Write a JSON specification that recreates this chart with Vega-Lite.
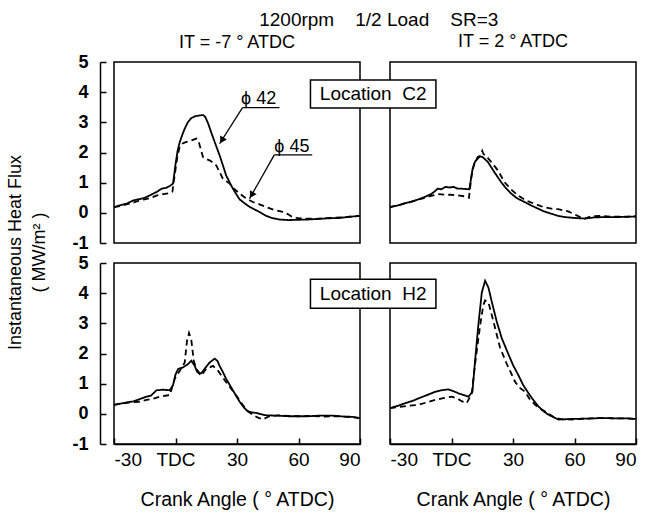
{
  "$schema": "https://vega.github.io/schema/vega-lite/v6.json",
  "padding": {"left": 5, "top": 11, "right": 5, "bottom": 2},
  "title": {"text": "1200rpm\u00a0\u00a0\u00a0\u00a01/2 Load\u00a0\u00a0\u00a0\u00a0SR=3", "anchor": "middle", "fontSize": 19, "fontWeight": "normal", "offset": 2, "dx": 56},
  "columns": 2,
  "bounds": "flush",
  "spacing": {"row": 20, "column": 30},
  "datasets": {
    "curves": [
      {"p":"TL","s":"ϕ42","x":-30,"y":0.19},{"p":"TL","s":"ϕ42","x":-27,"y":0.25},{"p":"TL","s":"ϕ42","x":-24,"y":0.3},{"p":"TL","s":"ϕ42","x":-20.6,"y":0.41},{"p":"TL","s":"ϕ42","x":-18,"y":0.45},{"p":"TL","s":"ϕ42","x":-15,"y":0.5},{"p":"TL","s":"ϕ42","x":-12.5,"y":0.58},{"p":"TL","s":"ϕ42","x":-9,"y":0.7},{"p":"TL","s":"ϕ42","x":-6.8,"y":0.8},{"p":"TL","s":"ϕ42","x":-4.5,"y":0.83},{"p":"TL","s":"ϕ42","x":-2.8,"y":0.89},{"p":"TL","s":"ϕ42","x":-1.2,"y":0.97},{"p":"TL","s":"ϕ42","x":0,"y":1.6},{"p":"TL","s":"ϕ42","x":1,"y":2.05},{"p":"TL","s":"ϕ42","x":2.1,"y":2.35},{"p":"TL","s":"ϕ42","x":3.5,"y":2.62},{"p":"TL","s":"ϕ42","x":4.5,"y":2.79},{"p":"TL","s":"ϕ42","x":6,"y":3.0},{"p":"TL","s":"ϕ42","x":7.7,"y":3.14},{"p":"TL","s":"ϕ42","x":9.5,"y":3.2},{"p":"TL","s":"ϕ42","x":11.8,"y":3.23},{"p":"TL","s":"ϕ42","x":13.5,"y":3.24},{"p":"TL","s":"ϕ42","x":14.5,"y":3.18},{"p":"TL","s":"ϕ42","x":16,"y":2.95},{"p":"TL","s":"ϕ42","x":17.5,"y":2.65},{"p":"TL","s":"ϕ42","x":19.1,"y":2.35},{"p":"TL","s":"ϕ42","x":21.5,"y":1.91},{"p":"TL","s":"ϕ42","x":23,"y":1.6},{"p":"TL","s":"ϕ42","x":24.7,"y":1.24},{"p":"TL","s":"ϕ42","x":26.5,"y":1.0},{"p":"TL","s":"ϕ42","x":28,"y":0.8},{"p":"TL","s":"ϕ42","x":31.2,"y":0.45},{"p":"TL","s":"ϕ42","x":34,"y":0.3},{"p":"TL","s":"ϕ42","x":36.1,"y":0.2},{"p":"TL","s":"ϕ42","x":40.9,"y":0.03},{"p":"TL","s":"ϕ42","x":44.2,"y":-0.1},{"p":"TL","s":"ϕ42","x":47,"y":-0.17},{"p":"TL","s":"ϕ42","x":50.6,"y":-0.22},{"p":"TL","s":"ϕ42","x":55,"y":-0.24},{"p":"TL","s":"ϕ42","x":60.4,"y":-0.23},{"p":"TL","s":"ϕ42","x":65,"y":-0.22},{"p":"TL","s":"ϕ42","x":70,"y":-0.2},{"p":"TL","s":"ϕ42","x":75,"y":-0.18},{"p":"TL","s":"ϕ42","x":80,"y":-0.17},{"p":"TL","s":"ϕ42","x":85,"y":-0.13},{"p":"TL","s":"ϕ42","x":90,"y":-0.1},
      {"p":"TL","s":"ϕ45","x":-30,"y":0.19},{"p":"TL","s":"ϕ45","x":-27,"y":0.22},{"p":"TL","s":"ϕ45","x":-24,"y":0.28},{"p":"TL","s":"ϕ45","x":-21,"y":0.33},{"p":"TL","s":"ϕ45","x":-18,"y":0.4},{"p":"TL","s":"ϕ45","x":-15,"y":0.45},{"p":"TL","s":"ϕ45","x":-12,"y":0.5},{"p":"TL","s":"ϕ45","x":-9,"y":0.58},{"p":"TL","s":"ϕ45","x":-6,"y":0.62},{"p":"TL","s":"ϕ45","x":-3,"y":0.65},{"p":"TL","s":"ϕ45","x":-1.5,"y":0.7},{"p":"TL","s":"ϕ45","x":-0.5,"y":1.2},{"p":"TL","s":"ϕ45","x":1,"y":1.9},{"p":"TL","s":"ϕ45","x":2.1,"y":2.2},{"p":"TL","s":"ϕ45","x":3.5,"y":2.3},{"p":"TL","s":"ϕ45","x":5.3,"y":2.35},{"p":"TL","s":"ϕ45","x":7.7,"y":2.4},{"p":"TL","s":"ϕ45","x":10.2,"y":2.46},{"p":"TL","s":"ϕ45","x":11.2,"y":2.4},{"p":"TL","s":"ϕ45","x":11.8,"y":2.24},{"p":"TL","s":"ϕ45","x":13.4,"y":1.85},{"p":"TL","s":"ϕ45","x":15,"y":1.78},{"p":"TL","s":"ϕ45","x":16.6,"y":1.74},{"p":"TL","s":"ϕ45","x":18,"y":1.68},{"p":"TL","s":"ϕ45","x":19.9,"y":1.57},{"p":"TL","s":"ϕ45","x":21.5,"y":1.35},{"p":"TL","s":"ϕ45","x":23.1,"y":1.13},{"p":"TL","s":"ϕ45","x":26.4,"y":0.97},{"p":"TL","s":"ϕ45","x":28.5,"y":0.8},{"p":"TL","s":"ϕ45","x":31.2,"y":0.64},{"p":"TL","s":"ϕ45","x":34,"y":0.5},{"p":"TL","s":"ϕ45","x":37.7,"y":0.36},{"p":"TL","s":"ϕ45","x":41,"y":0.28},{"p":"TL","s":"ϕ45","x":44.2,"y":0.19},{"p":"TL","s":"ϕ45","x":48,"y":0.1},{"p":"TL","s":"ϕ45","x":52.3,"y":0.03},{"p":"TL","s":"ϕ45","x":55,"y":-0.05},{"p":"TL","s":"ϕ45","x":57.1,"y":-0.14},{"p":"TL","s":"ϕ45","x":60,"y":-0.18},{"p":"TL","s":"ϕ45","x":63.6,"y":-0.19},{"p":"TL","s":"ϕ45","x":68,"y":-0.2},{"p":"TL","s":"ϕ45","x":72,"y":-0.18},{"p":"TL","s":"ϕ45","x":76.6,"y":-0.17},{"p":"TL","s":"ϕ45","x":81,"y":-0.15},{"p":"TL","s":"ϕ45","x":85,"y":-0.13},{"p":"TL","s":"ϕ45","x":90,"y":-0.1},
      {"p":"TR","s":"ϕ42","x":-30,"y":0.19},{"p":"TR","s":"ϕ42","x":-26,"y":0.25},{"p":"TR","s":"ϕ42","x":-22,"y":0.33},{"p":"TR","s":"ϕ42","x":-19.9,"y":0.36},{"p":"TR","s":"ϕ42","x":-16,"y":0.45},{"p":"TR","s":"ϕ42","x":-13.3,"y":0.52},{"p":"TR","s":"ϕ42","x":-10,"y":0.62},{"p":"TR","s":"ϕ42","x":-8,"y":0.72},{"p":"TR","s":"ϕ42","x":-6.8,"y":0.8},{"p":"TR","s":"ϕ42","x":-5,"y":0.78},{"p":"TR","s":"ϕ42","x":-3,"y":0.86},{"p":"TR","s":"ϕ42","x":-1,"y":0.84},{"p":"TR","s":"ϕ42","x":1,"y":0.86},{"p":"TR","s":"ϕ42","x":3,"y":0.8},{"p":"TR","s":"ϕ42","x":5,"y":0.8},{"p":"TR","s":"ϕ42","x":8.7,"y":0.78},{"p":"TR","s":"ϕ42","x":10.3,"y":1.46},{"p":"TR","s":"ϕ42","x":11.5,"y":1.7},{"p":"TR","s":"ϕ42","x":12.8,"y":1.8},{"p":"TR","s":"ϕ42","x":14,"y":1.87},{"p":"TR","s":"ϕ42","x":15.2,"y":1.85},{"p":"TR","s":"ϕ42","x":17.7,"y":1.69},{"p":"TR","s":"ϕ42","x":20.9,"y":1.35},{"p":"TR","s":"ϕ42","x":24.2,"y":1.02},{"p":"TR","s":"ϕ42","x":26.5,"y":0.82},{"p":"TR","s":"ϕ42","x":29.1,"y":0.64},{"p":"TR","s":"ϕ42","x":32,"y":0.48},{"p":"TR","s":"ϕ42","x":35.6,"y":0.36},{"p":"TR","s":"ϕ42","x":39,"y":0.24},{"p":"TR","s":"ϕ42","x":42.2,"y":0.14},{"p":"TR","s":"ϕ42","x":45,"y":0.05},{"p":"TR","s":"ϕ42","x":48.7,"y":-0.03},{"p":"TR","s":"ϕ42","x":52,"y":-0.1},{"p":"TR","s":"ϕ42","x":55.2,"y":-0.14},{"p":"TR","s":"ϕ42","x":60,"y":-0.17},{"p":"TR","s":"ϕ42","x":65,"y":-0.19},{"p":"TR","s":"ϕ42","x":70,"y":-0.15},{"p":"TR","s":"ϕ42","x":75,"y":-0.14},{"p":"TR","s":"ϕ42","x":81.3,"y":-0.14},{"p":"TR","s":"ϕ42","x":86,"y":-0.13},{"p":"TR","s":"ϕ42","x":90,"y":-0.12},
      {"p":"TR","s":"ϕ45","x":-30,"y":0.19},{"p":"TR","s":"ϕ45","x":-26,"y":0.25},{"p":"TR","s":"ϕ45","x":-22,"y":0.33},{"p":"TR","s":"ϕ45","x":-18,"y":0.4},{"p":"TR","s":"ϕ45","x":-14,"y":0.48},{"p":"TR","s":"ϕ45","x":-10,"y":0.56},{"p":"TR","s":"ϕ45","x":-6.8,"y":0.62},{"p":"TR","s":"ϕ45","x":-3,"y":0.6},{"p":"TR","s":"ϕ45","x":-0.3,"y":0.6},{"p":"TR","s":"ϕ45","x":3,"y":0.58},{"p":"TR","s":"ϕ45","x":6,"y":0.55},{"p":"TR","s":"ϕ45","x":8.5,"y":0.5},{"p":"TR","s":"ϕ45","x":9.8,"y":1.24},{"p":"TR","s":"ϕ45","x":11,"y":1.6},{"p":"TR","s":"ϕ45","x":12.8,"y":1.85},{"p":"TR","s":"ϕ45","x":14.3,"y":1.9},{"p":"TR","s":"ϕ45","x":15,"y":2.05},{"p":"TR","s":"ϕ45","x":15.6,"y":1.95},{"p":"TR","s":"ϕ45","x":17,"y":1.88},{"p":"TR","s":"ϕ45","x":19.3,"y":1.69},{"p":"TR","s":"ϕ45","x":21,"y":1.55},{"p":"TR","s":"ϕ45","x":22.6,"y":1.41},{"p":"TR","s":"ϕ45","x":25.8,"y":1.02},{"p":"TR","s":"ϕ45","x":29,"y":0.78},{"p":"TR","s":"ϕ45","x":32.4,"y":0.58},{"p":"TR","s":"ϕ45","x":36,"y":0.42},{"p":"TR","s":"ϕ45","x":40.5,"y":0.3},{"p":"TR","s":"ϕ45","x":44.5,"y":0.2},{"p":"TR","s":"ϕ45","x":48.7,"y":0.14},{"p":"TR","s":"ϕ45","x":52,"y":0.12},{"p":"TR","s":"ϕ45","x":56.9,"y":0.05},{"p":"TR","s":"ϕ45","x":60,"y":-0.05},{"p":"TR","s":"ϕ45","x":63,"y":-0.15},{"p":"TR","s":"ϕ45","x":65,"y":-0.19},{"p":"TR","s":"ϕ45","x":68,"y":-0.12},{"p":"TR","s":"ϕ45","x":73.2,"y":-0.1},{"p":"TR","s":"ϕ45","x":78,"y":-0.13},{"p":"TR","s":"ϕ45","x":84,"y":-0.13},{"p":"TR","s":"ϕ45","x":90,"y":-0.12},
      {"p":"BL","s":"ϕ42","x":-30,"y":0.3},{"p":"BL","s":"ϕ42","x":-26,"y":0.35},{"p":"BL","s":"ϕ42","x":-22,"y":0.4},{"p":"BL","s":"ϕ42","x":-20.6,"y":0.41},{"p":"BL","s":"ϕ42","x":-17,"y":0.5},{"p":"BL","s":"ϕ42","x":-14.1,"y":0.57},{"p":"BL","s":"ϕ42","x":-12,"y":0.6},{"p":"BL","s":"ϕ42","x":-9.3,"y":0.78},{"p":"BL","s":"ϕ42","x":-6,"y":0.8},{"p":"BL","s":"ϕ42","x":-2.8,"y":0.78},{"p":"BL","s":"ϕ42","x":-1.2,"y":0.95},{"p":"BL","s":"ϕ42","x":0,"y":1.3},{"p":"BL","s":"ϕ42","x":1.3,"y":1.49},{"p":"BL","s":"ϕ42","x":3.7,"y":1.54},{"p":"BL","s":"ϕ42","x":6.1,"y":1.65},{"p":"BL","s":"ϕ42","x":7.7,"y":1.76},{"p":"BL","s":"ϕ42","x":9.4,"y":1.59},{"p":"BL","s":"ϕ42","x":10.5,"y":1.4},{"p":"BL","s":"ϕ42","x":11.8,"y":1.32},{"p":"BL","s":"ϕ42","x":13,"y":1.38},{"p":"BL","s":"ϕ42","x":14.2,"y":1.49},{"p":"BL","s":"ϕ42","x":16.6,"y":1.7},{"p":"BL","s":"ϕ42","x":19.1,"y":1.83},{"p":"BL","s":"ϕ42","x":20.5,"y":1.75},{"p":"BL","s":"ϕ42","x":21.5,"y":1.59},{"p":"BL","s":"ϕ42","x":23,"y":1.4},{"p":"BL","s":"ϕ42","x":24.7,"y":1.16},{"p":"BL","s":"ϕ42","x":28,"y":0.78},{"p":"BL","s":"ϕ42","x":31.2,"y":0.41},{"p":"BL","s":"ϕ42","x":33.5,"y":0.2},{"p":"BL","s":"ϕ42","x":35.3,"y":0.08},{"p":"BL","s":"ϕ42","x":37,"y":0.05},{"p":"BL","s":"ϕ42","x":39.3,"y":0.03},{"p":"BL","s":"ϕ42","x":44.2,"y":-0.05},{"p":"BL","s":"ϕ42","x":50,"y":-0.06},{"p":"BL","s":"ϕ42","x":55,"y":-0.08},{"p":"BL","s":"ϕ42","x":60.4,"y":-0.08},{"p":"BL","s":"ϕ42","x":65,"y":-0.08},{"p":"BL","s":"ϕ42","x":70,"y":-0.06},{"p":"BL","s":"ϕ42","x":76.6,"y":-0.06},{"p":"BL","s":"ϕ42","x":82,"y":-0.09},{"p":"BL","s":"ϕ42","x":86,"y":-0.1},{"p":"BL","s":"ϕ42","x":90,"y":-0.14},
      {"p":"BL","s":"ϕ45","x":-30,"y":0.3},{"p":"BL","s":"ϕ45","x":-26,"y":0.34},{"p":"BL","s":"ϕ45","x":-22,"y":0.38},{"p":"BL","s":"ϕ45","x":-18,"y":0.4},{"p":"BL","s":"ϕ45","x":-14.1,"y":0.46},{"p":"BL","s":"ϕ45","x":-11,"y":0.5},{"p":"BL","s":"ϕ45","x":-7.7,"y":0.57},{"p":"BL","s":"ϕ45","x":-5,"y":0.6},{"p":"BL","s":"ϕ45","x":-2.8,"y":0.62},{"p":"BL","s":"ϕ45","x":-0.4,"y":1.16},{"p":"BL","s":"ϕ45","x":2.1,"y":1.43},{"p":"BL","s":"ϕ45","x":4.5,"y":1.7},{"p":"BL","s":"ϕ45","x":5.6,"y":2.41},{"p":"BL","s":"ϕ45","x":6.6,"y":2.68},{"p":"BL","s":"ϕ45","x":7.7,"y":2.46},{"p":"BL","s":"ϕ45","x":8.9,"y":1.76},{"p":"BL","s":"ϕ45","x":10.2,"y":1.49},{"p":"BL","s":"ϕ45","x":12.6,"y":1.27},{"p":"BL","s":"ϕ45","x":15,"y":1.49},{"p":"BL","s":"ϕ45","x":18.3,"y":1.59},{"p":"BL","s":"ϕ45","x":20.7,"y":1.43},{"p":"BL","s":"ϕ45","x":24.7,"y":1.05},{"p":"BL","s":"ϕ45","x":28.8,"y":0.68},{"p":"BL","s":"ϕ45","x":32.8,"y":0.3},{"p":"BL","s":"ϕ45","x":35,"y":0.1},{"p":"BL","s":"ϕ45","x":37.7,"y":-0.03},{"p":"BL","s":"ϕ45","x":40,"y":-0.12},{"p":"BL","s":"ϕ45","x":42.6,"y":-0.19},{"p":"BL","s":"ϕ45","x":44.5,"y":-0.12},{"p":"BL","s":"ϕ45","x":45.8,"y":-0.08},{"p":"BL","s":"ϕ45","x":50,"y":-0.05},{"p":"BL","s":"ϕ45","x":55,"y":-0.07},{"p":"BL","s":"ϕ45","x":60.4,"y":-0.08},{"p":"BL","s":"ϕ45","x":66,"y":-0.07},{"p":"BL","s":"ϕ45","x":72,"y":-0.09},{"p":"BL","s":"ϕ45","x":78,"y":-0.08},{"p":"BL","s":"ϕ45","x":84,"y":-0.1},{"p":"BL","s":"ϕ45","x":90,"y":-0.14},
      {"p":"BR","s":"ϕ42","x":-30,"y":0.19},{"p":"BR","s":"ϕ42","x":-26,"y":0.27},{"p":"BR","s":"ϕ42","x":-22.7,"y":0.35},{"p":"BR","s":"ϕ42","x":-19,"y":0.43},{"p":"BR","s":"ϕ42","x":-16.2,"y":0.51},{"p":"BR","s":"ϕ42","x":-12,"y":0.62},{"p":"BR","s":"ϕ42","x":-8,"y":0.73},{"p":"BR","s":"ϕ42","x":-5,"y":0.78},{"p":"BR","s":"ϕ42","x":-1.5,"y":0.81},{"p":"BR","s":"ϕ42","x":1,"y":0.75},{"p":"BR","s":"ϕ42","x":3.4,"y":0.68},{"p":"BR","s":"ϕ42","x":6,"y":0.62},{"p":"BR","s":"ϕ42","x":8.3,"y":0.57},{"p":"BR","s":"ϕ42","x":10.2,"y":0.73},{"p":"BR","s":"ϕ42","x":11.5,"y":1.76},{"p":"BR","s":"ϕ42","x":13.1,"y":2.95},{"p":"BR","s":"ϕ42","x":14.8,"y":4.03},{"p":"BR","s":"ϕ42","x":16.4,"y":4.41},{"p":"BR","s":"ϕ42","x":18,"y":4.19},{"p":"BR","s":"ϕ42","x":19.7,"y":3.7},{"p":"BR","s":"ϕ42","x":22.1,"y":3.05},{"p":"BR","s":"ϕ42","x":24.5,"y":2.51},{"p":"BR","s":"ϕ42","x":27.8,"y":1.97},{"p":"BR","s":"ϕ42","x":30,"y":1.62},{"p":"BR","s":"ϕ42","x":32.7,"y":1.27},{"p":"BR","s":"ϕ42","x":35,"y":0.95},{"p":"BR","s":"ϕ42","x":37.6,"y":0.68},{"p":"BR","s":"ϕ42","x":40,"y":0.45},{"p":"BR","s":"ϕ42","x":42.5,"y":0.24},{"p":"BR","s":"ϕ42","x":45,"y":0.08},{"p":"BR","s":"ϕ42","x":47.3,"y":-0.03},{"p":"BR","s":"ϕ42","x":50,"y":-0.12},{"p":"BR","s":"ϕ42","x":52.2,"y":-0.19},{"p":"BR","s":"ϕ42","x":58.7,"y":-0.17},{"p":"BR","s":"ϕ42","x":65,"y":-0.16},{"p":"BR","s":"ϕ42","x":73.4,"y":-0.14},{"p":"BR","s":"ϕ42","x":80,"y":-0.15},{"p":"BR","s":"ϕ42","x":85,"y":-0.15},{"p":"BR","s":"ϕ42","x":90,"y":-0.17},
      {"p":"BR","s":"ϕ45","x":-30,"y":0.19},{"p":"BR","s":"ϕ45","x":-26,"y":0.22},{"p":"BR","s":"ϕ45","x":-22,"y":0.26},{"p":"BR","s":"ϕ45","x":-19,"y":0.28},{"p":"BR","s":"ϕ45","x":-16.2,"y":0.3},{"p":"BR","s":"ϕ45","x":-12,"y":0.38},{"p":"BR","s":"ϕ45","x":-8,"y":0.46},{"p":"BR","s":"ϕ45","x":-4,"y":0.52},{"p":"BR","s":"ϕ45","x":0.1,"y":0.57},{"p":"BR","s":"ϕ45","x":3,"y":0.5},{"p":"BR","s":"ϕ45","x":5,"y":0.42},{"p":"BR","s":"ϕ45","x":7.4,"y":0.35},{"p":"BR","s":"ϕ45","x":9.9,"y":0.68},{"p":"BR","s":"ϕ45","x":11.5,"y":1.65},{"p":"BR","s":"ϕ45","x":14,"y":2.95},{"p":"BR","s":"ϕ45","x":15.5,"y":3.6},{"p":"BR","s":"ϕ45","x":16.4,"y":3.76},{"p":"BR","s":"ϕ45","x":18,"y":3.7},{"p":"BR","s":"ϕ45","x":20.5,"y":3.05},{"p":"BR","s":"ϕ45","x":23.7,"y":2.19},{"p":"BR","s":"ϕ45","x":27,"y":1.65},{"p":"BR","s":"ϕ45","x":31.1,"y":1.05},{"p":"BR","s":"ϕ45","x":33.5,"y":0.85},{"p":"BR","s":"ϕ45","x":35.9,"y":0.73},{"p":"BR","s":"ϕ45","x":38,"y":0.5},{"p":"BR","s":"ϕ45","x":40.8,"y":0.3},{"p":"BR","s":"ϕ45","x":43,"y":0.18},{"p":"BR","s":"ϕ45","x":45.7,"y":0.08},{"p":"BR","s":"ϕ45","x":50.6,"y":-0.14},{"p":"BR","s":"ϕ45","x":54,"y":-0.18},{"p":"BR","s":"ϕ45","x":58.7,"y":-0.19},{"p":"BR","s":"ϕ45","x":65,"y":-0.16},{"p":"BR","s":"ϕ45","x":73.4,"y":-0.14},{"p":"BR","s":"ϕ45","x":80,"y":-0.15},{"p":"BR","s":"ϕ45","x":85,"y":-0.15},{"p":"BR","s":"ϕ45","x":90,"y":-0.17}
    ]
  },
  "concat": [
    {
      "width": 246, "height": 181,
      "title": {"text": "IT = -7 ° ATDC", "frame": "group", "anchor": "middle", "baseline": "alphabetic", "offset": -13, "fontSize": 18},
      "encoding": {
        "x": {"field": "x", "type": "quantitative", "scale": {"domain": [-30, 90], "nice": false}, "axis": null},
        "y": {"field": "y", "type": "quantitative", "scale": {"domain": [-1, 5], "nice": false},
              "axis": {"values": [-1, 0, 1, 2, 3, 4, 5], "offset": 14, "tickSize": -6, "labelPadding": 18, "labelFontWeight": "bold", "labelOverlap": false, "labelExpr": "'' + datum.value",
                       "title": ["Instantaneous Heat Flux", "( MW/m² )"], "titleAngle": -90, "titleAlign": "center", "titleBaseline": "top",
                       "titleX": -94, "titleY": 190, "titleLineHeight": 24}}
      },
      "layer": [
        {
          "data": {"name": "curves"},
          "transform": [{"filter": "datum.p === 'TL'"}],
          "mark": {"type": "line", "color": "black", "strokeWidth": 1.8},
          "encoding": {
            "strokeDash": {"field": "s", "type": "nominal", "scale": {"domain": ["ϕ42", "ϕ45"], "range": [[1, 0], [6, 4]]}, "legend": null}
          }
        },
        {
          "data": {"values": [{"x": 32.7, "y": 3.49, "x2": 50.7, "y2": 3.49}, {"x": 32.7, "y": 3.49, "x2": 21.5, "y2": 2.29}, {"x": 48.2, "y": 1.92, "x2": 66.7, "y2": 1.92}, {"x": 48.2, "y": 1.92, "x2": 36.1, "y2": 0.47}]},
          "mark": {"type": "rule", "color": "black", "strokeWidth": 1.3},
          "encoding": {"x2": {"field": "x2"}, "y2": {"field": "y2"}}
        },
        {
          "data": {"values": [{"x": 22.6, "y": 2.4}, {"x": 37.1, "y": 0.59}]},
          "mark": {"type": "point", "shape": "triangle-up", "filled": true, "color": "black", "opacity": 1, "size": 60, "angle": 211}
        },
        {
          "data": {"values": [{"x": 32, "y": 3.78, "t": "ϕ 42"}, {"x": 48.2, "y": 2.19, "t": "ϕ 45"}]},
          "mark": {"type": "text", "align": "left", "baseline": "middle", "fontSize": 18, "color": "black"},
          "encoding": {"text": {"field": "t"}}
        }
      ]
    },
    {
      "width": 246, "height": 181,
      "title": {"text": "IT = 2 ° ATDC", "frame": "group", "anchor": "middle", "baseline": "alphabetic", "offset": -3, "fontSize": 18},
      "encoding": {
        "x": {"field": "x", "type": "quantitative", "scale": {"domain": [-30, 90], "nice": false}, "axis": null},
        "y": {"field": "y", "type": "quantitative", "scale": {"domain": [-1, 5], "nice": false}, "axis": null}
      },
      "layer": [
        {
          "data": {"name": "curves"},
          "transform": [{"filter": "datum.p === 'TR'"}],
          "mark": {"type": "line", "color": "black", "strokeWidth": 1.8},
          "encoding": {
            "strokeDash": {"field": "s", "type": "nominal", "scale": {"domain": ["ϕ42", "ϕ45"], "range": [[1, 0], [6, 4]]}, "legend": null}
          }
        },
        {
          "data": {"values": [{"x": -68.8, "x2": -7.6, "y": 3.475, "y2": 4.4}]},
          "mark": {"type": "rect", "fill": "white", "stroke": "black", "strokeWidth": 1.5},
          "encoding": {"x2": {"field": "x2"}, "y2": {"field": "y2"}}
        },
        {
          "data": {"values": [{"x": -38.2, "y": 3.94, "t": "Location\u00a0\u00a0C2"}]},
          "mark": {"type": "text", "align": "center", "baseline": "middle", "fontSize": 19, "color": "black"},
          "encoding": {"text": {"field": "t"}}
        }
      ]
    },
    {
      "width": 246, "height": 181,
      "layer": [
        {
          "data": {"name": "curves"},
          "transform": [{"filter": "datum.p === 'BL'"}],
          "mark": {"type": "line", "color": "black", "strokeWidth": 1.8},
          "encoding": {
            "x": {"field": "x", "type": "quantitative", "scale": {"domain": [-30, 90], "nice": false},
                  "axis": {"values": [-30, 0, 30, 60, 90], "tickSize": -6, "labelPadding": 12, "labelFontSize": 19, "labelOverlap": false, "labelExpr": "datum.value === 0 ? 'TDC' : '' + datum.value", "title": "Crank Angle ( ° ATDC)", "titleFontSize": 19.5, "titlePadding": 21}},
            "y": {"field": "y", "type": "quantitative", "scale": {"domain": [-1, 5], "nice": false},
                  "axis": {"values": [-1, 0, 1, 2, 3, 4, 5], "offset": 14, "tickSize": -6, "labelPadding": 18, "labelFontWeight": "bold", "labelOverlap": false, "labelExpr": "'' + datum.value", "title": null}},
            "strokeDash": {"field": "s", "type": "nominal", "scale": {"domain": ["ϕ42", "ϕ45"], "range": [[1, 0], [6, 4]]}, "legend": null}
          }
        }
      ]
    },
    {
      "width": 246, "height": 181,
      "encoding": {
        "x": {"field": "x", "type": "quantitative", "scale": {"domain": [-30, 90], "nice": false},
              "axis": {"values": [-30, 0, 30, 60, 90], "tickSize": -6, "labelPadding": 12, "labelFontSize": 19, "labelOverlap": false, "labelExpr": "datum.value === 0 ? 'TDC' : '' + datum.value", "title": "Crank Angle ( ° ATDC)", "titleFontSize": 19.5, "titlePadding": 21}},
        "y": {"field": "y", "type": "quantitative", "scale": {"domain": [-1, 5], "nice": false}, "axis": null}
      },
      "layer": [
        {
          "data": {"name": "curves"},
          "transform": [{"filter": "datum.p === 'BR'"}],
          "mark": {"type": "line", "color": "black", "strokeWidth": 1.8},
          "encoding": {
            "strokeDash": {"field": "s", "type": "nominal", "scale": {"domain": ["ϕ42", "ϕ45"], "range": [[1, 0], [6, 4]]}, "legend": null}
          }
        },
        {
          "data": {"values": [{"x": -68.8, "x2": -7.6, "y": 3.5, "y2": 4.46}]},
          "mark": {"type": "rect", "fill": "white", "stroke": "black", "strokeWidth": 1.5},
          "encoding": {"x2": {"field": "x2"}, "y2": {"field": "y2"}}
        },
        {
          "data": {"values": [{"x": -38.2, "y": 3.97, "t": "Location\u00a0\u00a0H2"}]},
          "mark": {"type": "text", "align": "center", "baseline": "middle", "fontSize": 19, "color": "black"},
          "encoding": {"text": {"field": "t"}}
        }
      ]
    }
  ],
  "config": {
    "font": "Liberation Sans",
    "background": "white",
    "view": {"stroke": "black", "strokeWidth": 1.5},
    "axis": {"domainColor": "black", "domainWidth": 1.5, "tickColor": "black", "tickWidth": 1.5, "labelColor": "black", "titleColor": "black", "grid": false,
             "labelFontSize": 18, "titleFontSize": 18, "titleFontWeight": "normal", "labelFont": "Liberation Sans", "titleFont": "Liberation Sans"},
    "title": {"color": "black", "fontWeight": "normal", "fontSize": 18, "font": "Liberation Sans"},
    "text": {"font": "Liberation Sans"}
  }
}
